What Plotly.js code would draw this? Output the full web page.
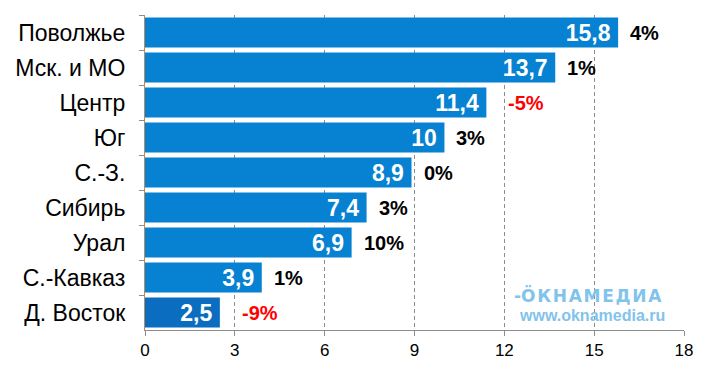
<!DOCTYPE html>
<html><head><meta charset="utf-8">
<script src="https://cdn.plot.ly/plotly-3.0.1.min.js"></script>
<style>html,body{margin:0;padding:0;background:#fff}#c{width:707px;height:371px}</style>
</head><body><div id="c"></div>
<script>
const categories = ["Поволжье","Мск. и МО","Центр","Юг","С.-З.","Сибирь","Урал","С.-Кавказ","Д. Восток"];
const values = [15.8, 13.7, 11.4, 10, 8.9, 7.4, 6.9, 3.9, 2.5];
const changes = [4, 1, -5, 3, 0, 3, 10, 1, -9];
const xTicks = [0, 3, 6, 9, 12, 15, 18];

const FONT = 'Arial, "Liberation Sans", sans-serif';
const barColors = values.map((v, i) => i === values.length - 1 ? '#0a6dbf' : '#0781d1');
const valueText = values.map(v => String(v).replace('.', ',') + '\u2009');

const trace = {
  type: 'bar', orientation: 'h',
  y: categories, x: values,
  marker: {color: barColors, line: {width: 0}},
  text: valueText, textposition: 'inside', insidetextanchor: 'end', textangle: 0,
  textfont: {family: FONT, size: 23, color: '#ffffff', weight: 'bold'},
  cliponaxis: false, hoverinfo: 'none', constraintext: 'none'
};

const annotations = values.map((v, i) => ({
  x: v, y: categories[i], xref: 'x', yref: 'y',
  text: changes[i] + '%', showarrow: false,
  xanchor: 'left', xshift: changes[i] < 0 ? 20 : 10,
  font: {family: FONT, size: 20, weight: 'bold', color: changes[i] < 0 ? '#ff0000' : '#000000'}
}));
const sp = '\u200a';
annotations.push({
  xref: 'paper', yref: 'paper', x: 0.822, y: 0.11, xanchor: 'center', yanchor: 'middle',
  text: '-Ö' + sp + ['К','Н','А','М','Е','Д','И','А'].join(sp), showarrow: false,
  font: {family: '"DejaVu Sans", sans-serif', size: 17, weight: 'bold', color: '#82c3ec'}
});
annotations.push({
  xref: 'paper', yref: 'paper', x: 0.83, y: 0.047, xanchor: 'center', yanchor: 'middle',
  text: 'www.oknamedia.ru', showarrow: false,
  font: {family: FONT, size: 16, weight: 'bold', color: '#82c3ec'}
});

const layout = {
  width: 707, height: 371,
  margin: {l: 145, r: 23, t: 15, b: 41},
  paper_bgcolor: '#ffffff', plot_bgcolor: '#ffffff',
  separators: ',.',
  bargap: 0.14,
  showlegend: false,
  xaxis: {
    range: [0, 18], tickvals: xTicks, ticktext: xTicks.map(String),
    showgrid: true, gridcolor: '#8c8c8c', griddash: '4px,3px', gridwidth: 1,
    zeroline: false, showline: true, linecolor: '#8c8c8c', linewidth: 1,
    ticks: 'outside', ticklen: 5, tickcolor: '#8c8c8c',
    tickfont: {family: FONT, size: 17, color: '#000'},
    fixedrange: true
  },
  yaxis: {
    autorange: 'reversed', type: 'category',
    showline: true, linecolor: '#b98a60', linewidth: 1,
    ticks: 'outside', ticklen: 5, tickcolor: '#8c8c8c', tickson: 'boundaries',
    showgrid: false, zeroline: false,
    ticklabelstandoff: 14,
    tickfont: {family: FONT, size: 23, color: '#000'},
    fixedrange: true
  },
  annotations: annotations
};

Plotly.newPlot('c', [trace], layout, {displayModeBar: false, staticPlot: true});
</script>
</body></html>
